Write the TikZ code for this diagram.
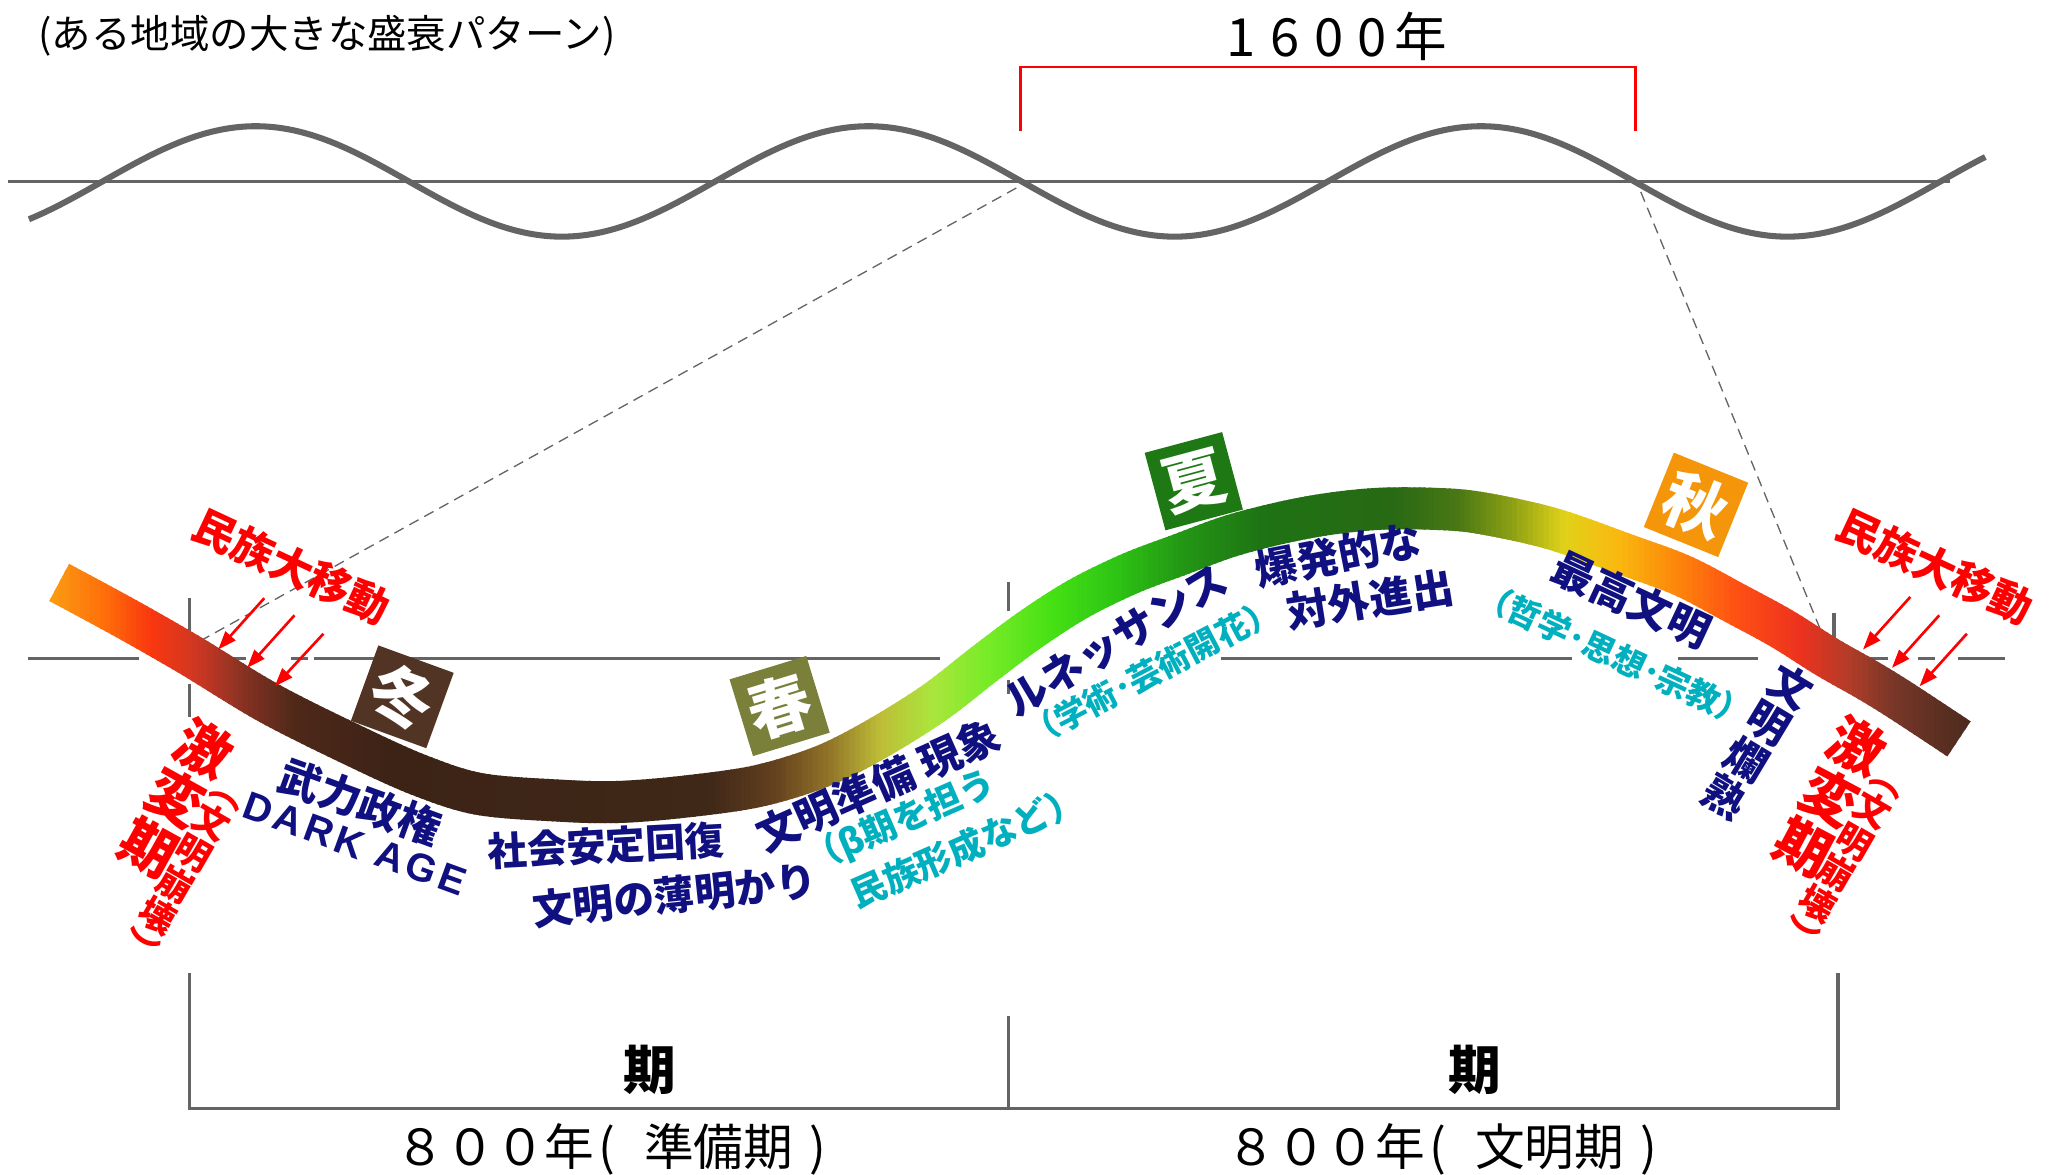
\documentclass[tikz,border=0pt]{standalone}
\usepackage{fontspec}
\setmainfont{Noto Sans CJK JP}
\newfontfamily\jp{Noto Sans CJK JP}
\newfontfamily\latsp[LetterSpace=10]{Liberation Sans}
\usetikzlibrary{arrows.meta}
\definecolor{navy}{RGB}{16,16,128}
\definecolor{tealt}{RGB}{0,176,190}
\definecolor{lgray}{RGB}{100,100,100}
\definecolor{wint}{RGB}{82,52,36}
\definecolor{spr}{RGB}{122,128,58}
\definecolor{summ}{RGB}{30,120,20}
\definecolor{autm}{RGB}{245,150,10}
\definecolor{s0}{RGB}{250,165,20}
\definecolor{s1}{RGB}{255,110,10}
\definecolor{s2}{RGB}{250,55,15}
\definecolor{s3}{RGB}{205,55,35}
\definecolor{s4}{RGB}{135,50,35}
\definecolor{s5}{RGB}{78,40,25}
\definecolor{s6}{RGB}{60,35,22}
\definecolor{s7}{RGB}{64,40,24}
\definecolor{s8}{RGB}{100,65,30}
\definecolor{s9}{RGB}{145,115,40}
\definecolor{s10}{RGB}{190,190,55}
\definecolor{s11}{RGB}{170,230,60}
\definecolor{s12}{RGB}{120,235,40}
\definecolor{s13}{RGB}{70,225,20}
\definecolor{s14}{RGB}{45,195,20}
\definecolor{s15}{RGB}{35,150,20}
\definecolor{s16}{RGB}{30,115,20}
\definecolor{s17}{RGB}{40,105,20}
\definecolor{s18}{RGB}{75,120,20}
\definecolor{s19}{RGB}{140,160,20}
\definecolor{s20}{RGB}{225,210,25}
\definecolor{s21}{RGB}{250,185,15}
\definecolor{s22}{RGB}{252,135,10}
\definecolor{s23}{RGB}{255,80,20}
\definecolor{s24}{RGB}{235,50,30}
\definecolor{s25}{RGB}{180,60,40}
\definecolor{s26}{RGB}{120,55,40}
\definecolor{s27}{RGB}{65,40,28}
\newcommand\jfs[1]{\fontsize{#1}{#1}\selectfont}
\newcommand\opp{\makebox[1em][l]{\kern0.08em(}}
\newcommand\clp{\makebox[1em][c]{)}}
\tikzset{
  navyl/.style={text=navy, font=\jp\bfseries\jfs{16pt}, inner sep=0pt},
  tealsm/.style={text=tealt, font=\jp\bfseries\jfs{12.5pt}, inner sep=0pt},
  redl/.style={text=red, font=\jp\bfseries\jfs{16pt}, inner sep=0pt},
  season/.style={minimum size=30.5pt, inner sep=0pt, text=white, font=\jp\bfseries\jfs{24pt}},
  axisl/.style={draw=lgray, line width=1.25pt},
  thindash/.style={draw=lgray, line width=0.5pt, dash pattern=on 4pt off 2.5pt},
  redarrow/.style={draw=red, line width=1pt, -{Triangle[length=7pt,width=5pt]}},
  brk/.style={draw=red, line width=1pt},
  curve/.style={insert path={plot[smooth, tension=0.55] coordinates {
    (45,443) (95,470) (144,498) (205,535) (271,568) (320,590) (365,604) (426,609)
    (470,610) (520,606) (576,598) (625,583) (665,563) (710,535) (750,504) (785,478)
    (821,455) (860,436) (897,422) (935,408) (973,398) (1010,391) (1049,387) (1090,387)
    (1125,390) (1180,402) (1237,422) (1280,438) (1320,459) (1355,478) (1390,500)
    (1420,517) (1446,533) (1490,562)}}}
}
\begin{document}
\begin{tikzpicture}[x=0.5pt, y=-0.5pt]
\useasboundingbox (0,0) rectangle (1560,893.7);
\fill[white] (0,0) rectangle (1560,893.7);

% title
\node[anchor=west, font=\jp\jfs{15pt}, inner sep=0pt] (title) at (29,27) {(ある地域の大きな盛衰パターン)};

% top wave
\coordinate (axl) at (6,138);
\coordinate (axr) at (1483,138);
\draw[lgray, line width=1.1pt] (axl) -- (axr);
\draw[lgray, line width=2.3pt] plot[domain=22:1510, samples=300, smooth] (\x,{138-42*sin((\x-78)/466*360)});

% 1600 bracket
\coordinate (bl0) at (776,100);
\coordinate (bl1) at (776,51);
\coordinate (br1) at (1244,51);
\coordinate (br0) at (1244,100);
\draw[brk] (bl0) -- (bl1) -- (br1) -- (br0);
\node[font=\jp\jfs{20pt}, inner sep=0pt] (yr) at (1017,28) {1\kern5.5pt6\kern5.5pt0\kern5.5pt0\kern3pt年};

% thin dashed diagonals
\coordinate (dl0) at (773,143);
\coordinate (dl1) at (155,486);
\coordinate (dr0) at (1248,146);
\coordinate (dr1) at (1390,492);
\draw[thindash] (dl0) -- (dl1);
\draw[thindash] (dr0) -- (dr1);

% middle dashed axis
\foreach \a/\b in {21/106, 176/187, 221/234, 239/715, 929/1196, 1276/1337, 1411/1436, 1459/1472, 1489/1525}{
  \draw[axisl] (\a,501) -- (\b,501);
}
\foreach \xx/\a/\b in {144/455/480, 144/520/545, 767/443/465, 767/517/528, 1395/466/498}{
  \draw[axisl] (\xx,\a) -- (\xx,\b);
}

% gradient curve
\foreach \xa/\ca/\xb/\cb in {30/s0/80/s1, 80/s1/115/s2, 115/s2/150/s3, 150/s3/185/s4, 185/s4/225/s5,
  225/s5/300/s6, 300/s6/540/s7, 540/s7/590/s8, 590/s8/630/s9, 630/s9/670/s10, 670/s10/710/s11,
  710/s11/750/s12, 750/s12/800/s13, 800/s13/850/s14, 850/s14/900/s15, 900/s15/960/s16,
  960/s16/1060/s17, 1060/s17/1110/s18, 1110/s18/1150/s19, 1150/s19/1190/s20, 1190/s20/1230/s21,
  1230/s21/1275/s22, 1275/s22/1320/s23, 1320/s23/1370/s24, 1370/s24/1405/s25, 1405/s25/1440/s26,
  1440/s26/1510/s27}{
  \pgfmathtruncatemacro\n{max(1,round((\xb-\xa)/4))}
  \pgfmathsetmacro\s{(\xb-\xa)/\n}
  \foreach \k in {1,...,\n}{
    \pgfmathsetmacro\xl{\xa+(\k-1)*\s}
    \pgfmathsetmacro\xr{\xa+\k*\s+1.2}
    \pgfmathtruncatemacro\p{100*(\k-0.5)/\n}
    \begin{scope}
      \clip (\xl,300) rectangle (\xr,700);
      \draw[line width=16pt, line cap=butt, \cb!\p!\ca, curve];
    \end{scope}
  }
}

% season boxes
\node[season, fill=wint, rotate=-20] (winter) at (306,530) {冬};
\node[season, fill=spr, rotate=17] (spring) at (593,537) {春};
\node[season, fill=summ, rotate=15] (summer) at (908,366) {夏};
\node[season, fill=autm, rotate=-22] (autumn) at (1290,384) {秋};

% migrations
\node[redl, rotate=-25] (migL) at (222,431) {民族大移動};
\node[redl, rotate=-25] (migR) at (1472,431) {民族大移動};
\coordinate (aL1s) at (201,455); \coordinate (aL1e) at (166,494);
\coordinate (aL2s) at (224,468); \coordinate (aL2e) at (188,508);
\coordinate (aL3s) at (246,482); \coordinate (aL3e) at (209,522);
\coordinate (aR1s) at (1453,454); \coordinate (aR1e) at (1417,494);
\coordinate (aR2s) at (1475,468); \coordinate (aR2e) at (1439,508);
\coordinate (aR3s) at (1496,482); \coordinate (aR3e) at (1460,522);
\draw[redarrow] (aL1s) -- (aL1e);
\draw[redarrow] (aL2s) -- (aL2e);
\draw[redarrow] (aL3s) -- (aL3e);
\draw[redarrow] (aR1s) -- (aR1e);
\draw[redarrow] (aR2s) -- (aR2e);
\draw[redarrow] (aR3s) -- (aR3e);

% upheaval columns
\node[text=red, font=\jp\bfseries\fontsize{21pt}{21.7pt}\selectfont, inner sep=0pt, align=center, rotate=-29] (gekiL) at (134,607) {激\\変\\期};
\node[text=red, font=\jp\bfseries\fontsize{13.5pt}{13.8pt}\selectfont, inner sep=0pt, align=center, rotate=-30] (houL) at (137,667) {︵\\文\\明\\崩\\壊\\︶};
\node[text=red, font=\jp\bfseries\fontsize{21pt}{21.7pt}\selectfont, inner sep=0pt, align=center, rotate=-28] (gekiR) at (1392,606) {激\\変\\期};
\node[text=red, font=\jp\bfseries\fontsize{13.5pt}{13.8pt}\selectfont, inner sep=0pt, align=center, rotate=-30] (houR) at (1400,658) {︵\\文\\明\\崩\\壊\\︶};

% navy labels
\node[navyl, rotate=-20] (buryoku) at (274,610) {武力政権};
\node[text=navy, font=\latsp\bfseries\jfs{15pt}, inner sep=0pt, rotate=-20] (dark) at (270,642) {DARK AGE};
\node[navyl, font=\jp\bfseries\jfs{15pt}, rotate=3] (antei) at (461,643) {社会安定回復};
\node[navyl, font=\jp\bfseries\jfs{15.5pt}, rotate=6] (hakumei) at (513,681) {文明の薄明かり};
\node[navyl, rotate=24] (junbi) at (668,597) {文明準備 現象};
\node[navyl, rotate=31] (renai) at (849,487) {ルネッサンス};
\node[navyl, rotate=11] (bakuhatsu) at (1018,422) {爆発的な};
\node[navyl, rotate=9] (taigai) at (1042,456) {対外進出};
\node[navyl, rotate=-25] (saikou) at (1241,456) {最高文明};
\node[navyl, align=center, font=\jp\bfseries\fontsize{16pt}{16.3pt}\selectfont, rotate=-31] (ranjuku) at (1337,564) {文\\明\\爛\\熟};

% teal notes
\node[tealsm, font=\jp\bfseries\jfs{13.5pt}, rotate=23.5] (beta) at (685,625) {（β期を担う};
\node[tealsm, font=\jp\bfseries\jfs{13.5pt}, rotate=23.6] (minzoku) at (735,644) {民族形成など）};
\node[tealsm, rotate=27.6] (gakujutsu) at (876,511) {（学術･芸術開花）};
\node[tealsm, rotate=-25] (tetsugaku) at (1228,498) {（哲学･思想･宗教）};

% bottom bracket
\coordinate (bb0) at (144,740);
\coordinate (bb1) at (144,843);
\coordinate (bb2) at (1398,843);
\coordinate (bb3) at (1398,740);
\coordinate (bm0) at (767,773);
\coordinate (bm1) at (767,843);
\draw[axisl] (bb0) -- (bb1) -- (bb2) -- (bb3);
\draw[axisl] (bm0) -- (bm1);
\node[font=\jp\bfseries\jfs{20pt}, inner sep=0pt] (ki1) at (494,814) {期};
\node[font=\jp\bfseries\jfs{20pt}, inner sep=0pt] (ki2) at (1122,814) {期};
\node[font=\jp\jfs{18.9pt}, inner sep=0pt] (prep) at (471,874) {８００年\opp 準備期\clp};
\node[font=\jp\jfs{18.9pt}, inner sep=0pt] (civ) at (1103,874) {８００年\opp 文明期\clp};
\end{tikzpicture}
\end{document}
